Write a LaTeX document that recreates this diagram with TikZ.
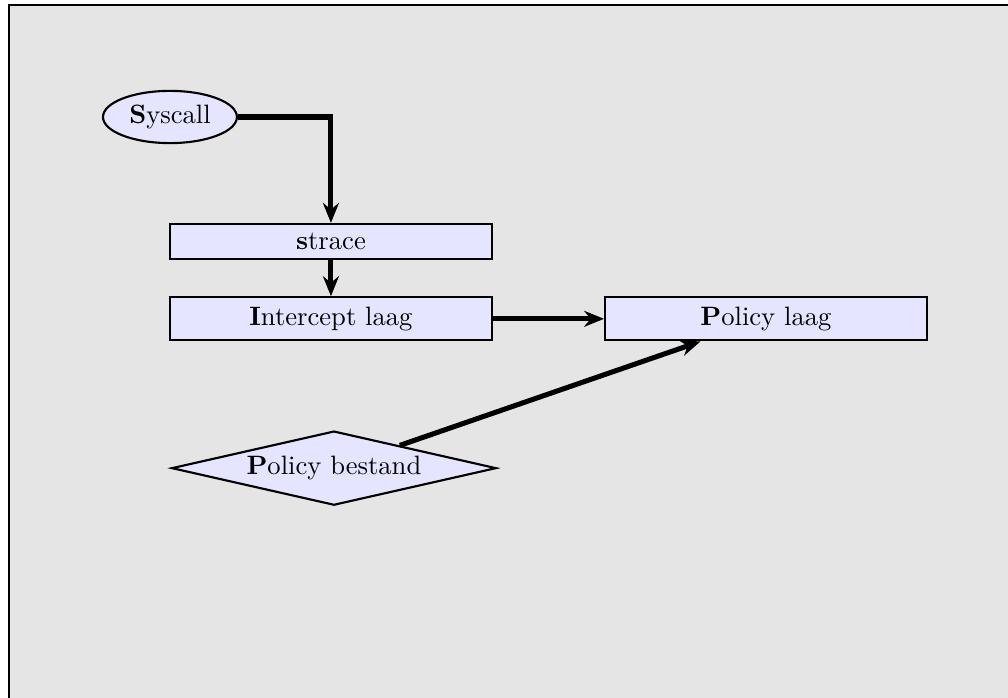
\documentclass[tikz,border=0pt]{standalone}
\usepackage{tikz}
\usetikzlibrary{arrows.meta,positioning,shapes.geometric}
\usepackage{xcolor}

\begin{document}
\begin{tikzpicture}[
    node distance=0.48cm,
    startnode/.style={draw, thick, ellipse, fill=blue!10, minimum width=1.77cm, minimum height=0.69cm, inner sep=1pt},
    laagbox/.style={draw, thick, rectangle, fill=blue!10, minimum width=4.25cm, align=center},
    filebox/.style={draw, thick, diamond, aspect=4.4, fill=blue!10, minimum width=4.29cm, minimum height=0.98cm, inner sep=1pt},
    flow/.style={-{Stealth[length=7.5pt,width=6pt]}, line width=1.9pt}
]

% page and frame
\useasboundingbox (0,0) rectangle (13.32,-9.22);
\draw[thick, fill=black!10] (0.119,-0.066) rectangle (13.7,-9.6);

\node[startnode] (syscall) at (2.246,-1.546) {\textbf{S}yscall};
\node[laagbox, minimum height=0.46cm] (strace) at (4.373,-3.19) {\textbf{s}trace};
\node[laagbox, minimum height=0.57cm, below=of strace] (intercept) {\textbf{I}ntercept laag};
\node[laagbox, minimum height=0.57cm, right=1.47cm of intercept] (policy) {\textbf{P}olicy laag};
\node[filebox, below=1.17cm of intercept, xshift=0.04cm] (bestand) {\textbf{P}olicy bestand};

\draw[flow] (syscall.east) -| (strace.north);
\draw[flow] (strace.south) -- (intercept.north);
\draw[flow] (intercept.east) -- (policy.west);
\draw[flow] (bestand) -- (policy);
\end{tikzpicture}
\end{document}
